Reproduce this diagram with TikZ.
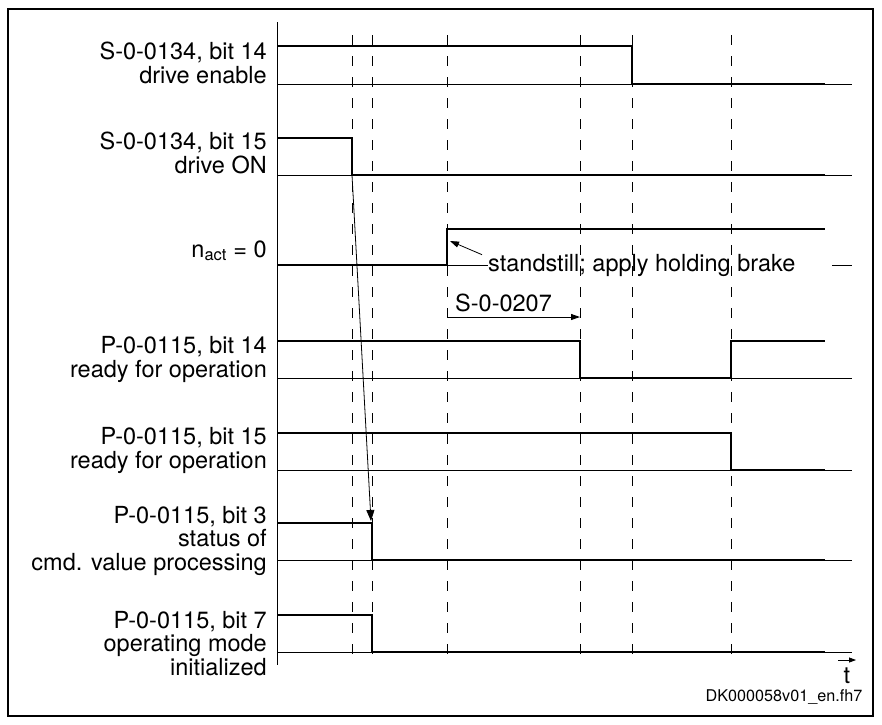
\documentclass[tikz,border=0pt]{standalone}
\usepackage{fontspec}
\setmainfont{TeX Gyre Heros}
\usetikzlibrary{arrows.meta}
\begin{document}
\begin{tikzpicture}[x=1pt,y=-1pt,
  sigline/.style={line width=2.8pt},
  zeroline/.style={line width=0.9pt},
  timeline/.style={line width=0.9pt,dash pattern=on 10pt off 11pt},
  lbl/.style={anchor=base east,align=right,inner sep=0pt,
    font=\fontsize{23.5}{23.5}\selectfont},
  txt/.style={inner sep=0pt,font=\fontsize{23.5}{23.5}\selectfont}]
  \useasboundingbox (0,0) rectangle (882,724);
  \draw[line width=1.3pt] (8,9) rectangle (873,716);
  % time axis and instants
  \draw[zeroline] (277,22) -- (277,665);
  \foreach \x in {352,372,447,580,632,731}
    \draw[timeline] (\x,35) -- (\x,657);
  % zero lines
  \foreach \y in {84,175,378,470,560,652}
    \draw[zeroline] (277,\y) -- (852,\y);
  \draw[zeroline] (277,265) -- (488,265);
  \draw[zeroline] (832,265) -- (852,265);
  % signals
  \draw[sigline] (277,46) -- (632,46) -- (632,84) -- (825,84);
  \draw[sigline] (277,138) -- (352,138) -- (352,175) -- (825,175);
  \draw[sigline] (277,265) -- (447,265) -- (447,229) -- (825,229);
  \draw[sigline] (277,341) -- (580,341) -- (580,378) -- (731,378)
    -- (731,341) -- (825,341);
  \draw[sigline] (277,433) -- (731,433) -- (731,470) -- (825,470);
  \draw[sigline] (277,523) -- (372,523) -- (372,560) -- (825,560);
  \draw[sigline] (277,615) -- (372,615) -- (372,652) -- (825,652);
  % labels (base = last line)
  \node[lbl] (enable) at (267,83) {S-0-0134, bit 14\\drive enable};
  \node[lbl] (driveon) at (267,173) {S-0-0134, bit 15\\drive ON};
  \node[lbl] (nact) at (267,257) {n\textsubscript{act} = 0};
  \node[lbl] (ready14) at (267,377) {P-0-0115, bit 14\\ready for operation};
  \node[lbl] (ready15) at (267,468) {P-0-0115, bit 15\\ready for operation};
  \node[lbl] (cmdval) at (267,570) {P-0-0115, bit 3\\status of\\cmd. value processing};
  \node[lbl] (opmode) at (267,675) {P-0-0115, bit 7\\operating mode\\initialized};
  % remarks and arrows
  \coordinate (off) at (352,175);
  \coordinate (cmdoff) at (371,521);
  \draw[-{Triangle[length=11pt,width=8pt]},line width=0.8pt] (off) -- (cmdoff);
  \node[txt,anchor=base west] (stop) at (488,271) {standstill; apply holding brake};
  \coordinate (stopcorner) at (450,241);
  \draw[-{Triangle[length=9pt,width=6pt]},line width=0.8pt]
    ([xshift=-6pt,yshift=-1pt]stop.north west) -- (stopcorner);
  \coordinate (delaya) at (447,317);
  \coordinate (delayb) at (580,317);
  \draw[-{Triangle[length=9pt,width=6pt]},zeroline] (delaya) -- (delayb);
  \node[txt,anchor=base west] (delay) at (455,311) {S-0-0207};
  \coordinate (ta) at (838,660);
  \coordinate (tb) at (856,660);
  \draw[-{Triangle[length=7pt,width=5pt]},line width=0.8pt] (ta) -- (tb);
  \node[txt,anchor=base] (time) at (847,683) {t};
  \node[anchor=base,inner sep=0pt,font=\fontsize{16.2}{16}\selectfont]
    (fig) at (784,701) {DK000058v01\_en.fh7};
\end{tikzpicture}
\end{document}
